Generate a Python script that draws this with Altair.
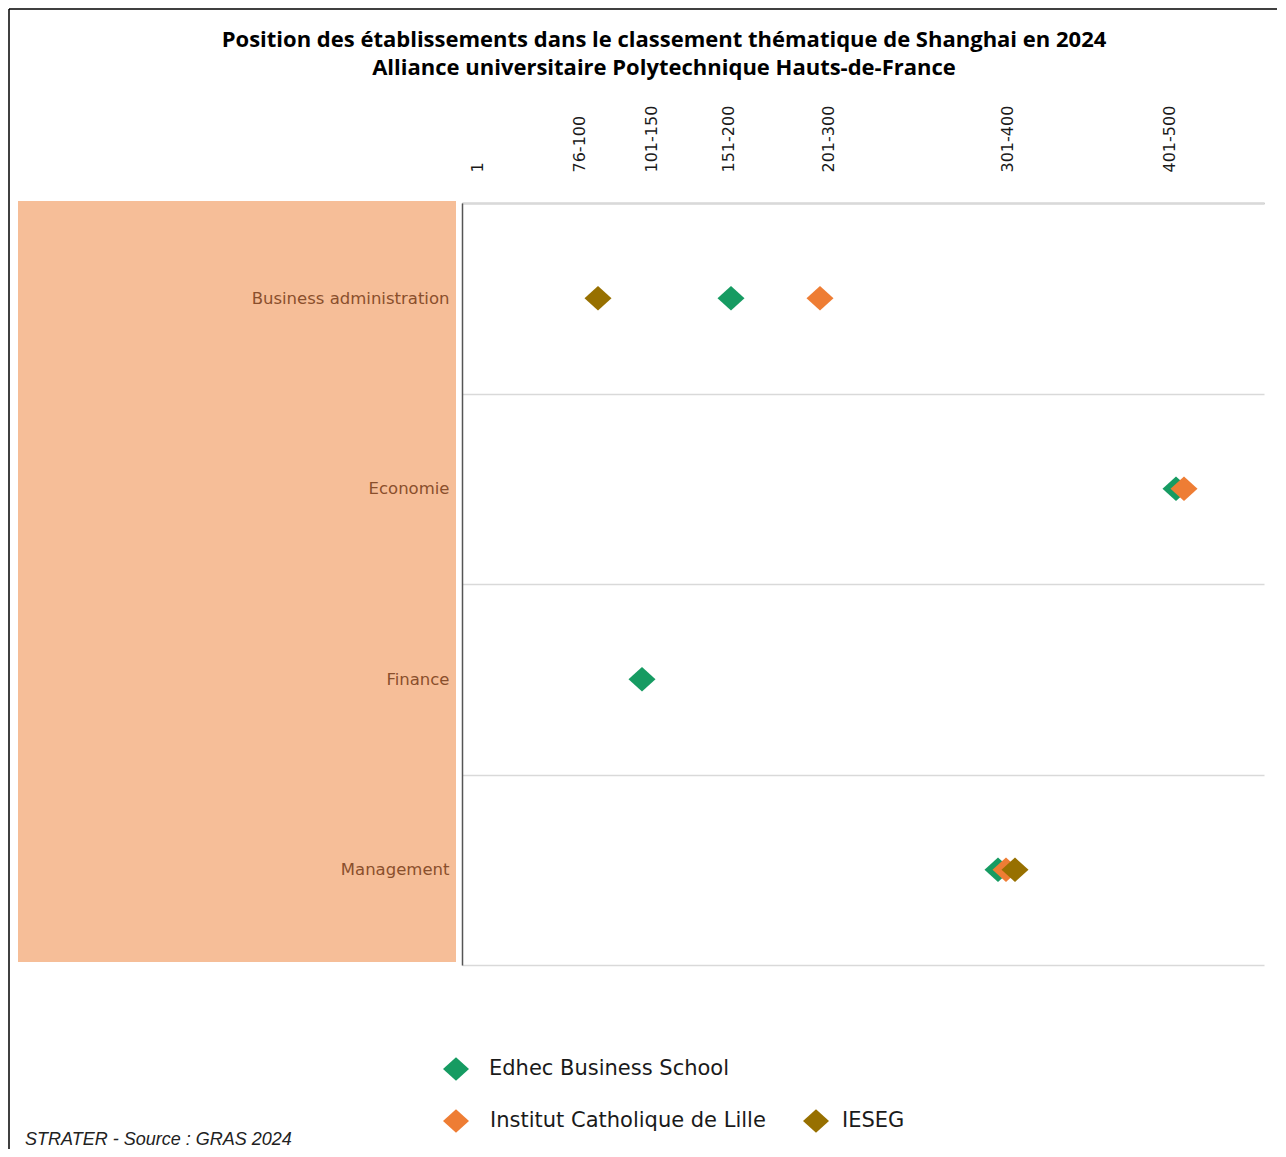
import altair as alt
import pandas as pd

# ---- data ----
categories = ["Business administration", "Economie", "Finance", "Management"]
schools = ["Edhec Business School", "Institut Catholique de Lille", "IESEG"]
colors = ["#169B62", "#EE7D34", "#977000"]

# axis position units and their bracket labels
tick_positions = [15, 117, 189, 266, 366, 545, 707]
tick_labels = ["1", "76-100", "101-150", "151-200", "201-300", "301-400", "401-500"]

pt_school = ["Edhec Business School", "Edhec Business School", "Edhec Business School", "Edhec Business School",
             "Institut Catholique de Lille", "Institut Catholique de Lille", "Institut Catholique de Lille",
             "IESEG", "IESEG"]
pt_category = ["Business administration", "Economie", "Finance", "Management",
               "Business administration", "Economie", "Management",
               "Business administration", "Management"]
pt_position = [269, 714, 180, 536, 358, 722, 544, 136, 553]

title_lines = ["Position des établissements dans le classement thématique de Shanghai en 2024",
               "Alliance universitaire Polytechnique Hauts-de-France"]
footer = "STRATER - Source : GRAS 2024"

W, H = 802, 762

df = pd.DataFrame({"school": pt_school, "category": pt_category, "position": pt_position})
df["order"] = df["school"].map({s: i for i, s in enumerate(schools)})
df = df.sort_values("order", kind="stable")

label_expr = " : ".join(
    [f"datum.value == {p} ? '{l}'" for p, l in zip(tick_positions, tick_labels)]
) + " : ''"

diamond = "M-1,0L0,-0.9L1,0L0,0.9Z"
color_scale = alt.Scale(domain=schools, range=colors)

x_enc = alt.X("position:Q", scale=alt.Scale(domain=[0, W], nice=False, zero=False),
              axis=alt.Axis(orient="top", values=tick_positions, labelExpr=label_expr,
                            labelAngle=270, labelAlign="left", labelBaseline="middle",
                            labelPadding=31, ticks=False, grid=False, domain=True,
                            domainColor="#8C8C8C", domainWidth=1.5, labelFlush=False,
                            labelOverlap=False, labelFont="DejaVu Sans", labelFontSize=16,
                            labelColor="#1a1a1a", title=None))
y_enc = alt.Y("category:N", scale=alt.Scale(domain=categories, paddingInner=0, paddingOuter=0),
              axis=alt.Axis(ticks=False, labelPadding=13, domain=True, domainColor="#555555",
                            domainWidth=1.5, grid=True, gridColor="#D9D9D9", gridWidth=1.5,
                            tickBand="extent", labelFont="DejaVu Sans", labelFontSize=16.5,
                            labelLimit=400, labelColor="#8A4F2C", title=None, zindex=1))

one = pd.DataFrame({"a": [0]})

# frame (left and top edges visible in the original)
frame_left = alt.Chart(one).mark_rule(color="#000000", strokeWidth=1.5).encode(
    x=alt.value(-453), y=alt.value(-194), y2=alt.value(946))
frame_top = alt.Chart(one).mark_rule(color="#000000", strokeWidth=1.5).encode(
    x=alt.value(-453), x2=alt.value(815), y=alt.value(-194))

# peach label panel
panel = alt.Chart(one).mark_rect(color="#F6BE98").encode(
    x=alt.value(-444), x2=alt.value(-6), y=alt.value(-2), y2=alt.value(759))

points = alt.Chart(df).mark_point(filled=True, opacity=1, size=729, shape=diamond).encode(
    x=x_enc, y=y_enc,
    color=alt.Color("school:N", scale=color_scale, legend=None),
    order=alt.Order("order:Q"))

title_df = pd.DataFrame({"t": title_lines, "dy": [-163, -135]})
title = alt.Chart(title_df).mark_text(font="Open Sans", fontSize=22, fontWeight="bold",
                                      color="#000000", align="center", baseline="middle").encode(
    text="t:N", x=alt.value(202), y=alt.Y("dy:Q", scale=None, axis=None))

footer_txt = alt.Chart(pd.DataFrame({"t": [footer]})).mark_text(
    font="Liberation Sans", fontStyle="italic", fontSize=18, color="#222222", align="left",
    baseline="alphabetic").encode(text="t:N", x=alt.value(-437), y=alt.value(942))

# legend (laid out as in the original: two rows)
leg_df = pd.DataFrame({"school": schools,
                       "sx": [-6, -6, 354], "sy": [866, 918, 918],
                       "tx": [27, 28, 380]})
leg_sym = alt.Chart(leg_df).mark_point(filled=True, opacity=1, size=676, shape=diamond).encode(
    x=alt.X("sx:Q", scale=None, axis=None), y=alt.Y("sy:Q", scale=None, axis=None),
    color=alt.Color("school:N", scale=color_scale, legend=None))
leg_txt = alt.Chart(leg_df).mark_text(font="DejaVu Sans", fontSize=21, color="#1a1a1a",
                                      align="left", baseline="middle").encode(
    x=alt.X("tx:Q", scale=None, axis=None), y=alt.Y("sy:Q", scale=None, axis=None), text="school:N")

chart = alt.layer(frame_left, frame_top, panel, points, title, footer_txt, leg_sym, leg_txt).resolve_scale(
    x="independent", y="independent"
).properties(
    width=W, height=H, padding=0,
    view=alt.ViewBackground(stroke="transparent", strokeWidth=0, strokeOpacity=0)
).configure_view(
    stroke="transparent", strokeWidth=0, strokeOpacity=0).configure(background="white")

chart.save("out.html", embed_options={"renderer": "svg", "actions": False})
